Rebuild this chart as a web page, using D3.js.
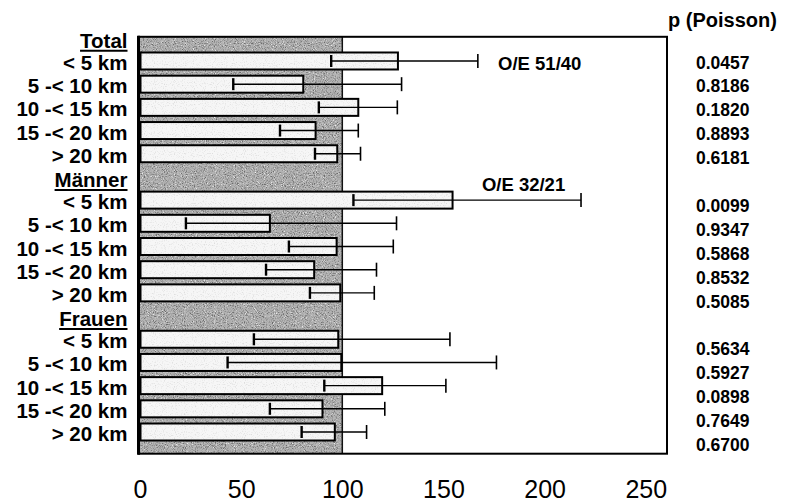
<!DOCTYPE html>
<html>
<head>
<meta charset="utf-8">
<script src="https://cdn.jsdelivr.net/npm/d3@7/dist/d3.min.js"></script>
<style>
  html, body { margin: 0; padding: 0; background: #fff; }
  svg { display: block; }
  text { font-family: "Liberation Sans", Arial, Helvetica, sans-serif; }
</style>
</head>
<body>
<svg id="chart" width="785" height="504"></svg>
<script>
// ---------------- data ----------------
const groups = ["Total", "Männer", "Frauen"];
const categories = ["< 5 km", "5 -< 10 km", "10 -< 15 km", "15 -< 20 km", "> 20 km"];

const totalOE    = [127.5, 80.7, 107.9, 86.8, 97.5];
const totalLow   = [94.5, 46.1, 88.4, 69.2, 86.5];
const totalHigh  = [167.0, 129.3, 127.2, 107.9, 109.0];

const maennerOE   = [154.5, 64.2, 97.2, 86.1, 99.0];
const maennerLow  = [105.5, 22.7, 73.6, 62.3, 84.0];
const maennerHigh = [218.0, 126.8, 125.2, 116.9, 115.8];

const frauenOE   = [98.0, 99.5, 119.7, 90.2, 96.3];
const frauenLow  = [56.3, 43.3, 91.1, 64.2, 79.9];
const frauenHigh = [153.2, 176.2, 151.2, 121.0, 112.0];

const totalP   = ["0.0457", "0.8186", "0.1820", "0.8893", "0.6181"];
const maennerP = ["0.0099", "0.9347", "0.5868", "0.8532", "0.5085"];
const frauenP  = ["0.5634", "0.5927", "0.0898", "0.7649", "0.6700"];

const oeLabels = ["O/E 51/40", "O/E 32/21"];
const pHeader = "p (Poisson)";
const xTicks = [0, 50, 100, 150, 200, 250];
const refValue = 100;

// ---------------- build rows ----------------
const oeSeries = [totalOE, maennerOE, frauenOE];
const lowSeries = [totalLow, maennerLow, frauenLow];
const highSeries = [totalHigh, maennerHigh, frauenHigh];
const pSeries = [totalP, maennerP, frauenP];

const rows = [];
const headers = [];
groups.forEach((g, gi) => {
  headers.push({ label: g, row: gi * 6 });
  categories.forEach((c, ci) => {
    rows.push({
      label: c, row: gi * 6 + 1 + ci,
      oe: oeSeries[gi][ci], lo: lowSeries[gi][ci], hi: highSeries[gi][ci],
      p: pSeries[gi][ci]
    });
  });
});

// ---------------- scales ----------------
const svg = d3.select("#chart");
const x = d3.scaleLinear().domain([0, 260.5]).range([140, 667]);
const y = d3.scalePoint().domain(d3.range(19)).range([37.8, 455.2]);
const pY = d3.scaleLinear().domain([1, 17]).range([62.5, 445]);

const frameTop = y(0) - 1;
const frameBottom = y(18) - 1.5;
const barH = 17;

// ---------------- defs: speckle textures ----------------
const defs = svg.append("defs");
const f = defs.append("filter").attr("id", "speckle")
  .attr("x", 0).attr("y", 0).attr("width", 1).attr("height", 1);
f.append("feTurbulence").attr("type", "fractalNoise")
  .attr("baseFrequency", 0.9).attr("numOctaves", 2).attr("seed", 7).attr("result", "n");
f.append("feColorMatrix").attr("in", "n").attr("type", "matrix")
  .attr("values", "0 0 0 0 0.15  0 0 0 0 0.15  0 0 0 0 0.15  3.2 0 0 0 -1.45").attr("result", "dark");
f.append("feColorMatrix").attr("in", "n").attr("type", "matrix")
  .attr("values", "0 0 0 0 1  0 0 0 0 1  0 0 0 0 1  0 -3.0 0 0 1.25").attr("result", "light");
f.append("feComposite").attr("in", "light").attr("in2", "SourceGraphic").attr("operator", "over").attr("result", "l1");
f.append("feComposite").attr("in", "dark").attr("in2", "l1").attr("operator", "over");

const f2 = defs.append("filter").attr("id", "lightSpeckle")
  .attr("x", 0).attr("y", 0).attr("width", 1).attr("height", 1);
f2.append("feTurbulence").attr("type", "fractalNoise")
  .attr("baseFrequency", 0.9).attr("numOctaves", 1).attr("seed", 3).attr("result", "n");
f2.append("feColorMatrix").attr("in", "n").attr("type", "matrix")
  .attr("values", "0 0 0 0 0.5  0 0 0 0 0.5  0 0 0 0 0.5  1.8 0 0 0 -0.95").attr("result", "dots");
f2.append("feComposite").attr("in", "dots").attr("in2", "SourceGraphic").attr("operator", "over");

// ---------------- shaded reference zone (0..100) ----------------
svg.append("rect")
  .attr("x", x(0)).attr("y", frameTop)
  .attr("width", x(refValue) - x(0)).attr("height", frameBottom - frameTop)
  .attr("fill", "#b4b4b4")
  .attr("filter", "url(#speckle)");
svg.append("line")
  .attr("x1", x(refValue)).attr("x2", x(refValue))
  .attr("y1", frameTop).attr("y2", frameBottom)
  .attr("stroke", "#111").attr("stroke-width", 1.5);

// ---------------- frame ----------------
svg.append("rect")
  .attr("x", x(0) - 1).attr("y", frameTop)
  .attr("width", x.range()[1] - x(0) + 1).attr("height", frameBottom - frameTop)
  .attr("fill", "none").attr("stroke", "#000").attr("stroke-width", 2);
svg.append("line")
  .attr("x1", x(0) - 1.5).attr("x2", x(0) - 1.5)
  .attr("y1", frameTop - 1).attr("y2", frameBottom + 1)
  .attr("stroke", "#000").attr("stroke-width", 3);

// ---------------- bars ----------------
const barG = svg.append("g");
barG.selectAll("rect.bar").data(rows).join("rect")
  .attr("class", "bar")
  .attr("x", x(0) + 0.5)
  .attr("y", d => y(d.row) - barH / 2)
  .attr("width", d => x(d.oe) - x(0) - 0.5)
  .attr("height", barH)
  .attr("fill", "#f6f6f6")
  .attr("filter", "url(#lightSpeckle)");
barG.selectAll("rect.outline").data(rows).join("rect")
  .attr("class", "outline")
  .attr("x", x(0) + 0.5)
  .attr("y", d => y(d.row) - barH / 2)
  .attr("width", d => x(d.oe) - x(0) - 0.5)
  .attr("height", barH)
  .attr("fill", "none")
  .attr("stroke", "#000").attr("stroke-width", 2);

// ---------------- error bars ----------------
const errG = svg.append("g").attr("stroke", "#000");
errG.selectAll("line.err").data(rows).join("line")
  .attr("x1", d => x(d.lo)).attr("x2", d => x(d.hi))
  .attr("y1", d => y(d.row)).attr("y2", d => y(d.row))
  .attr("stroke-width", 1.4);
errG.selectAll("line.capLo").data(rows).join("line")
  .attr("x1", d => x(d.lo)).attr("x2", d => x(d.lo))
  .attr("y1", d => y(d.row) - 6).attr("y2", d => y(d.row) + 6)
  .attr("stroke-width", 2.4);
errG.selectAll("line.capHi").data(rows).join("line")
  .attr("x1", d => x(d.hi)).attr("x2", d => x(d.hi))
  .attr("y1", d => y(d.row) - 7).attr("y2", d => y(d.row) + 7)
  .attr("stroke-width", 1.6);

// ---------------- category labels ----------------
const labelX = 127.5;
svg.append("g").selectAll("text").data(rows).join("text")
  .attr("x", labelX).attr("y", d => y(d.row) + 9)
  .attr("text-anchor", "end")
  .attr("font-size", "20.5px").attr("font-weight", "bold").attr("fill", "#000")
  .text(d => d.label);

const hG = svg.append("g");
hG.selectAll("text").data(headers).join("text")
  .attr("x", labelX).attr("y", d => y(d.row) + 10)
  .attr("text-anchor", "end")
  .attr("font-size", "20.5px").attr("font-weight", "bold").attr("fill", "#000")
  .text(d => d.label)
  .each(function(d) {
    const w = this.getComputedTextLength();
    hG.append("line")
      .attr("x1", labelX - w).attr("x2", labelX)
      .attr("y1", y(d.row) + 13).attr("y2", y(d.row) + 13)
      .attr("stroke", "#000").attr("stroke-width", 2);
  });

// ---------------- O/E annotations ----------------
svg.append("text").attr("x", x(177)).attr("y", y(1) + 9)
  .attr("font-size", "18.5px").attr("font-weight", "bold").text(oeLabels[0]);
svg.append("text").attr("x", x(169)).attr("y", y(6) + 14.5)
  .attr("font-size", "18.5px").attr("font-weight", "bold").text(oeLabels[1]);

// ---------------- p values ----------------
svg.append("text").attr("x", 668).attr("y", 27)
  .attr("font-size", "20px").attr("font-weight", "bold").text(pHeader);
svg.append("g").selectAll("text").data(rows).join("text")
  .attr("x", 696).attr("y", d => pY(d.row) + 6)
  .attr("font-size", "17.5px").attr("font-weight", "bold")
  .text(d => d.p);

// ---------------- x axis ----------------
const axis = d3.axisBottom(x).tickValues(xTicks).tickSize(0).tickPadding(3).tickFormat(d3.format("d"));
const axG = svg.append("g").attr("transform", "translate(0,477.5)").call(axis);
axG.select(".domain").remove();
axG.selectAll("text")
  .attr("font-family", "'Liberation Sans', Arial, sans-serif")
  .attr("font-size", "25px").attr("fill", "#000");
</script>
</body>
</html>
